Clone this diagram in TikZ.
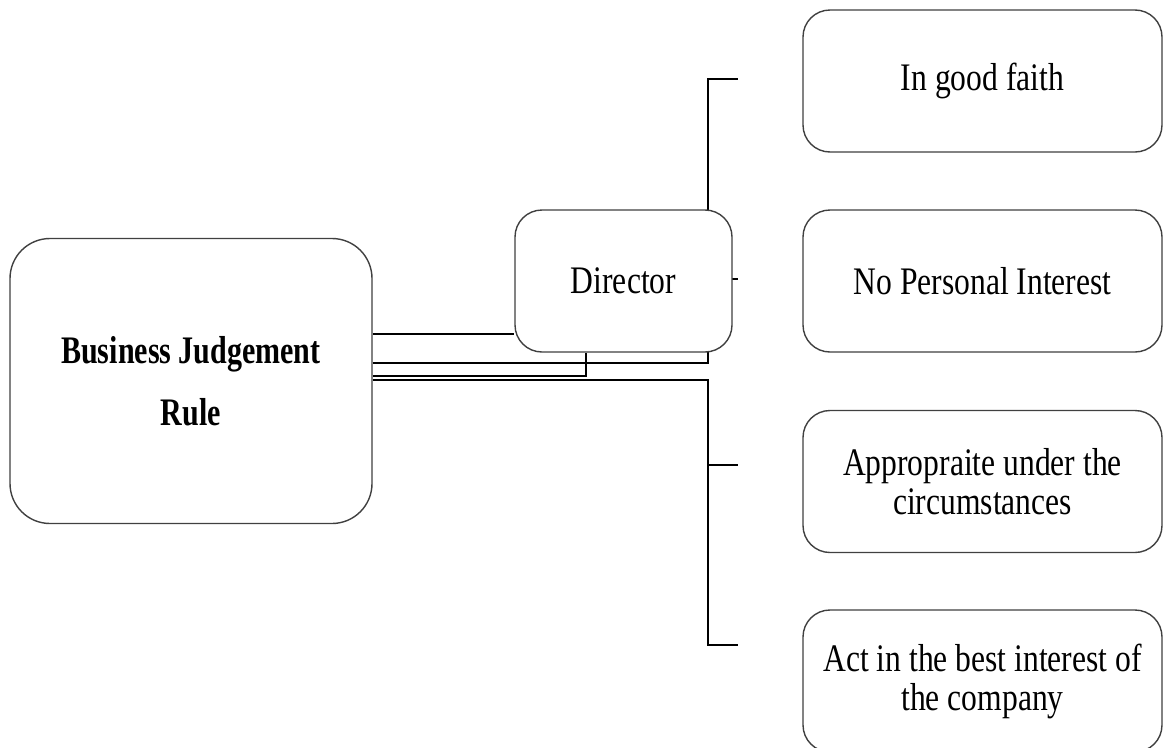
\documentclass[tikz,border=0pt]{standalone}
\usepackage{fontspec}
\setmainfont{Liberation Serif}[FakeStretch=0.81]
\newfontfamily\headfont{Liberation Serif}[FakeStretch=0.77]
\usetikzlibrary{backgrounds}

\begin{document}
\begin{tikzpicture}[x=1pt,y=-1pt,
  box/.style={draw=black!75, line width=1.4pt, fill=white, rounded corners=27pt,
    align=center, inner sep=0pt, font=\fontsize{39}{39}\selectfont},
  sidebox/.style={box, minimum width=359pt, minimum height=142pt},
  link/.style={draw=black, line width=2.6pt}]
\useasboundingbox (0,0) rectangle (1167,747);

% main concept and the director
\node[box, rounded corners=40pt, minimum width=362pt, minimum height=285pt,
  font=\headfont\bfseries\fontsize{39}{62}\selectfont] (bjr) at (191,381)
  {Business Judgement\\Rule};
\node[box, minimum width=217pt, minimum height=142pt] (dir) at (623.5,281) {Director};

% the four duties
\node[sidebox] (faith) at (982.5,81) {In good faith};
\node[sidebox] (noint) at (982.5,281) {No Personal Interest};
\node[sidebox] (circ) at (982.5,481.5) {Appropraite under the\\circumstances};
\node[sidebox] (best) at (982.5,681) {Act in the best interest of\\the company};

% loose ends of the bracket lines
\coordinate (t1) at (738,79);
\coordinate (t2) at (738,279);
\coordinate (t3) at (738,465);
\coordinate (t4) at (738,645);

\begin{scope}[on background layer]
  \draw[link] (bjr.east |- 0,334) -- (dir.west |- 0,334);
  \draw[link] (bjr.east |- 0,363) -| (708,79) -- (t1);
  \draw[link] (708,279) -- (t2);
  \draw[link] (bjr.east |- 0,376) -| (dir.south -| 586,0);
  \draw[link] (bjr.east |- 0,380) -| (708,645) -- (t4);
  \draw[link] (708,465) -- (t3);
\end{scope}
\end{tikzpicture}
\end{document}
